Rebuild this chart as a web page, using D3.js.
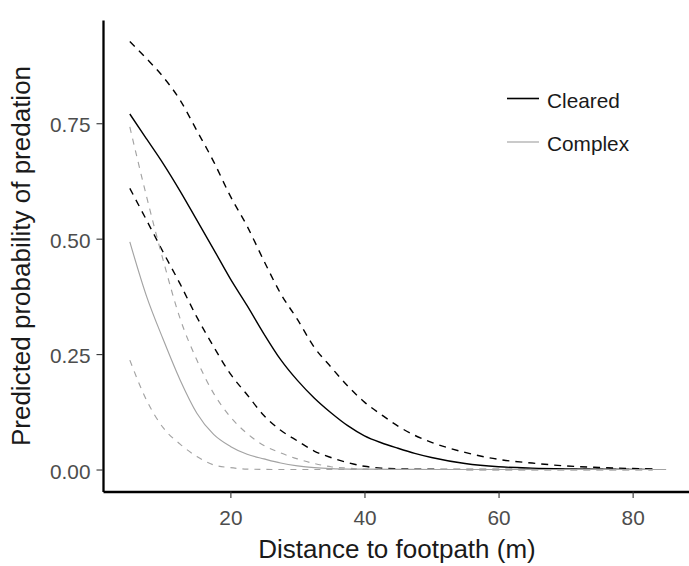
<!DOCTYPE html>
<html>
<head>
<meta charset="utf-8">
<script src="https://cdn.jsdelivr.net/npm/d3@7"></script>
<style>
  html, body { margin: 0; padding: 0; background: #fff; }
  svg { display: block; font-family: "Liberation Sans", Arial, sans-serif; }
</style>
</head>
<body>
<svg id="chart" width="689" height="566"></svg>
<script>
// ---- Data ----
const xCleared = [5, 7.5, 10, 12.5, 15, 17.5, 20, 22.5, 25, 27.5, 30, 32.5, 35, 37.5, 40, 42.5, 45, 47.5, 50, 55, 60, 65, 70, 75, 80, 83];
const clearedFit   = [0.770, 0.716, 0.662, 0.603, 0.540, 0.477, 0.413, 0.355, 0.294, 0.238, 0.193, 0.155, 0.123, 0.095, 0.073, 0.058, 0.046, 0.035, 0.026, 0.013, 0.006, 0.003, 0.0015, 0.0008, 0.0004, 0.0003];
const clearedUpper = [0.927, 0.890, 0.850, 0.800, 0.734, 0.667, 0.592, 0.527, 0.452, 0.381, 0.325, 0.265, 0.222, 0.181, 0.146, 0.119, 0.094, 0.074, 0.059, 0.037, 0.022, 0.014, 0.0078, 0.0045, 0.0022, 0.0012];
const clearedLower = [0.609, 0.540, 0.470, 0.402, 0.330, 0.266, 0.207, 0.162, 0.117, 0.085, 0.062, 0.040, 0.026, 0.015, 0.007, 0.003, 0.0015, 0.0008, 0.0005, 0.0002, 0.0001, 0, 0, 0, 0, 0];

const xComplex = [5, 7.5, 10, 12.5, 15, 17.5, 20, 22.5, 25, 27.5, 30, 32.5, 35, 40, 45, 50, 60, 70, 80, 85];
const complexFit = [0.493, 0.375, 0.281, 0.194, 0.122, 0.076, 0.050, 0.033, 0.023, 0.014, 0.008, 0.004, 0.002, 0.0008, 0.0003, 0.0001, 0, 0, 0, 0];

const xComplexCI = [5, 7.5, 10, 12.5, 15, 17.5, 20, 22.5, 25, 27.5, 30, 32.5, 35, 37.5, 40, 42];
const complexUpper = [0.742, 0.591, 0.452, 0.327, 0.237, 0.165, 0.114, 0.078, 0.052, 0.036, 0.023, 0.013, 0.006, 0.003, 0.001, 0.0005];
const complexLower = [0.237, 0.150, 0.090, 0.055, 0.028, 0.010, 0.004, 0.001, 0.0003, 0, 0, 0, 0, 0, 0, 0];

const yTicks = [0, 0.25, 0.50, 0.75];
const xTicks = [20, 40, 60, 80];
const legendLabels = ["Cleared", "Complex"];
const xTitle = "Distance to footpath (m)";
const yTitle = "Predicted probability of predation";

// ---- Layout ----
const svg = d3.select("#chart");
const x = d3.scaleLinear().domain([1, 89.6]).range([103, 697]);
const y = d3.scaleLinear().domain([-0.0476, 0.9736]).range([491.5, 20]);

const BLACK = "#000000";
const GREY = "#a3a3a3";

const line = d3.line()
  .x(d => x(d[0]))
  .y(d => y(d[1]))
  .curve(d3.curveMonotoneX);

const series = [
  { xs: xCleared,   ys: clearedUpper, color: BLACK, width: 1.4, dash: "7,6" },
  { xs: xCleared,   ys: clearedLower, color: BLACK, width: 1.4, dash: "7,6" },
  { xs: xCleared,   ys: clearedFit,   color: BLACK, width: 1.4, dash: null },
  { xs: xComplexCI, ys: complexUpper, color: GREY,  width: 1.15, dash: "6,6" },
  { xs: xComplexCI, ys: complexLower, color: GREY,  width: 1.15, dash: "6,6" },
  { xs: xComplex,   ys: complexFit,   color: GREY,  width: 1.15, dash: null }
];

const plot = svg.append("g");
series.forEach(s => {
  plot.append("path")
    .datum(s.xs.map((v, i) => [v, s.ys[i]]))
    .attr("d", line)
    .attr("fill", "none")
    .attr("stroke", s.color)
    .attr("stroke-width", s.width)
    .attr("stroke-dasharray", s.dash);
});

// ---- Axes ----
const yAxis = d3.axisLeft(y)
  .tickValues(yTicks)
  .tickFormat(d3.format(".2f"))
  .tickSizeInner(6.5)
  .tickSizeOuter(0)
  .tickPadding(6);
const gy = svg.append("g").attr("transform", "translate(103,0)").call(yAxis);
gy.select(".domain").attr("stroke", BLACK).attr("stroke-width", 2.3);
gy.selectAll(".tick line").attr("stroke", "#333333").attr("stroke-width", 1.1);
gy.selectAll(".tick text")
  .attr("fill", "#4d4d4d")
  .attr("font-size", "20.8px")
  .attr("dy", "0.42em")
  .style("font-family", "'Liberation Sans', Arial, sans-serif");

const xAxis = d3.axisBottom(x)
  .tickValues(xTicks)
  .tickFormat(d3.format("d"))
  .tickSizeInner(6.5)
  .tickSizeOuter(0)
  .tickPadding(12);
const gx = svg.append("g").attr("transform", "translate(0,491.5)").call(xAxis);
gx.select(".domain").attr("stroke", BLACK).attr("stroke-width", 2.3);
gx.selectAll(".tick line").attr("stroke", "#333333").attr("stroke-width", 1.1);
gx.selectAll(".tick text")
  .attr("fill", "#4d4d4d")
  .attr("font-size", "20.8px")
  .style("font-family", "'Liberation Sans', Arial, sans-serif");

// ---- Titles ----
svg.append("text")
  .attr("x", 397)
  .attr("y", 558)
  .attr("text-anchor", "middle")
  .attr("font-size", "26px")
  .attr("fill", "#1a1a1a")
  .text(xTitle);

svg.append("text")
  .attr("transform", "translate(30,256) rotate(-90)")
  .attr("text-anchor", "middle")
  .attr("font-size", "26px")
  .attr("fill", "#1a1a1a")
  .text(yTitle);

// ---- Legend ----
const legendStyles = [
  { color: BLACK, width: 1.6 },
  { color: GREY, width: 1.15 }
];
const legend = svg.append("g");
legendLabels.forEach((lab, i) => {
  const cy = 98.5 + i * 43.5;
  legend.append("line")
    .attr("x1", 507).attr("x2", 539)
    .attr("y1", cy).attr("y2", cy)
    .attr("stroke", legendStyles[i].color)
    .attr("stroke-width", legendStyles[i].width);
  legend.append("text")
    .attr("x", 547)
    .attr("y", cy + 9)
    .attr("font-size", "20.8px")
    .attr("fill", "#1a1a1a")
    .text(lab);
});
</script>
</body>
</html>
